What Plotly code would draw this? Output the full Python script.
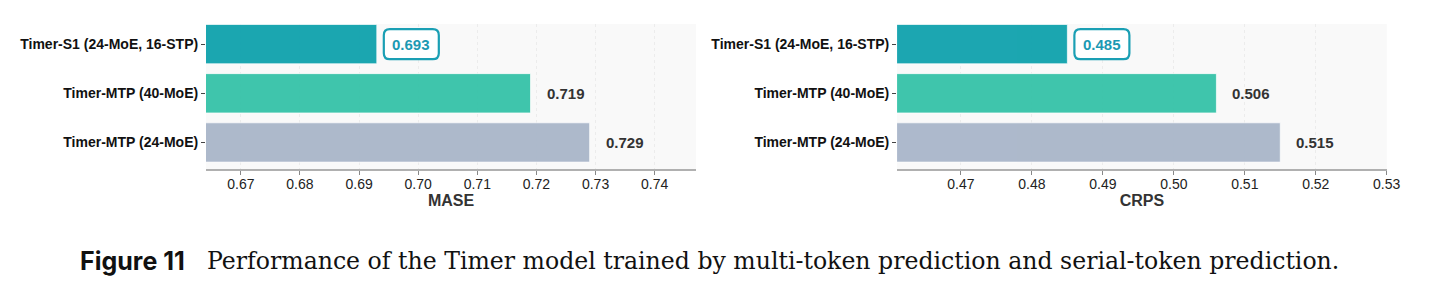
import plotly.graph_objects as go

W, H = 1422, 288  # leave room for the page scrollbar so the page isn't rescaled

models = ["Timer-S1 (24-MoE, 16-STP)", "Timer-MTP (40-MoE)", "Timer-MTP (24-MoE)"]
mase = [0.693, 0.719, 0.729]
crps = [0.485, 0.506, 0.515]
bar_colors = ["#13a3ae", "#38c3a9", "#aab7ca"]
mase_ticks = [0.67, 0.68, 0.69, 0.70, 0.71, 0.72, 0.73, 0.74]
crps_ticks = [0.47, 0.48, 0.49, 0.50, 0.51, 0.52, 0.53]
mase_range = [0.6641, 0.7470]
crps_range = [0.4610, 0.5300]
caption_label = "Figure 11"
caption_text = "Performance of the Timer model trained by multi-token prediction and serial-token prediction."

ypos = list(range(len(models)))

fig = go.Figure()

panels = [
    dict(vals=mase, ticks=mase_ticks, rng=mase_range, title="MASE", xa="x", ya="y",
         dom=[208 / W, 703 / W]),
    dict(vals=crps, ticks=crps_ticks, rng=crps_range, title="CRPS", xa="x2", ya="y2",
         dom=[906 / W, 1400.5 / W]),
]

ydom = [(H - 169) / H, (H - 24) / H]
HL = "#1a9fb4"

for i, p in enumerate(panels):
    fig.add_trace(go.Bar(
        x=p["vals"], y=ypos, orientation="h", width=0.8,
        marker=dict(color=bar_colors, opacity=0.96,
                    line=dict(color="rgba(255,255,255,0.7)", width=1)),
        xaxis=p["xa"], yaxis=p["ya"], showlegend=False, hoverinfo="skip",
    ))
    sfx = "" if i == 0 else str(i + 1)
    fig.layout["xaxis" + sfx] = dict(
        domain=p["dom"], range=p["rng"], anchor=p["ya"],
        tickvals=p["ticks"], ticktext=[f"{t:.2f}" for t in p["ticks"]],
        tickfont=dict(family="Liberation Sans, Arial", size=14, color="#222"),
        ticklabelstandoff=-3,
        showgrid=True, gridcolor="#ececec", griddash="dot", gridwidth=1,
        showline=True, linecolor="#b0b0b0", linewidth=1.5,
        ticks="outside", ticklen=4, tickcolor="#888", tickwidth=1,
        zeroline=False,
        title=dict(text=f"<b>{p['title']}</b>", standoff=2,
                   font=dict(family="Liberation Sans, Arial", size=16, color="#333")),
    )
    fig.layout["yaxis" + sfx] = dict(
        domain=ydom, range=[2.54, -0.41], anchor=p["xa"],
        tickvals=ypos, ticktext=[f"<b>{m}</b>" for m in models],
        tickfont=dict(family="Liberation Sans, Arial", size=14, color="#111"),
        showgrid=False, zeroline=False, showline=False,
        ticks="outside", ticklen=4, tickcolor="#444", tickwidth=1,
    )
    for j, v in enumerate(p["vals"]):
        if j == 0:
            bx0, bw, bh, r = 7, 55, 30, 6
            bx1 = bx0 + bw
            y0, y1 = -bh / 2, bh / 2
            path = (f"M {bx0 + r} {y0} L {bx1 - r} {y0} Q {bx1} {y0} {bx1} {y0 + r} "
                    f"L {bx1} {y1 - r} Q {bx1} {y1} {bx1 - r} {y1} "
                    f"L {bx0 + r} {y1} Q {bx0} {y1} {bx0} {y1 - r} "
                    f"L {bx0} {y0 + r} Q {bx0} {y0} {bx0 + r} {y0} Z")
            fig.add_shape(type="path", path=path, xref=p["xa"], yref=p["ya"],
                          xsizemode="pixel", ysizemode="pixel", xanchor=v, yanchor=ypos[j],
                          line=dict(color=HL, width=2.2), fillcolor="white", layer="above")
            fig.add_annotation(x=v, y=ypos[j], xref=p["xa"], yref=p["ya"],
                               text=f"<b>{v:.3f}</b>", showarrow=False,
                               xanchor="center", xshift=bx0 + bw / 2,
                               font=dict(family="Liberation Sans, Arial", size=15, color="#1c99b3"))
        else:
            fig.add_annotation(x=v, y=ypos[j], xref=p["xa"], yref=p["ya"],
                               text=f"<b>{v:.3f}</b>", showarrow=False,
                               xanchor="left", xshift=14,
                               font=dict(family="Liberation Sans, Arial", size=15, color="#333"))

fig.add_annotation(x=79 / W, y=(H - 261) / H, xref="paper", yref="paper",
                   text=f"<b>{caption_label}</b>", showarrow=False,
                   xanchor="left", yanchor="middle",
                   font=dict(family="Inter, Liberation Sans", size=25, color="#111"))
fig.add_annotation(x=207 / W, y=(H - 261) / H, xref="paper", yref="paper",
                   text=caption_text, showarrow=False,
                   xanchor="left", yanchor="middle",
                   font=dict(family="DejaVu Serif, serif", size=23.6, color="#111"))

fig.update_layout(
    width=W, height=H, margin=dict(l=0, r=0, t=0, b=0),
    paper_bgcolor="white", plot_bgcolor="#f9f9f9",
    bargap=0.2,
)

fig.write_html("out.html")
